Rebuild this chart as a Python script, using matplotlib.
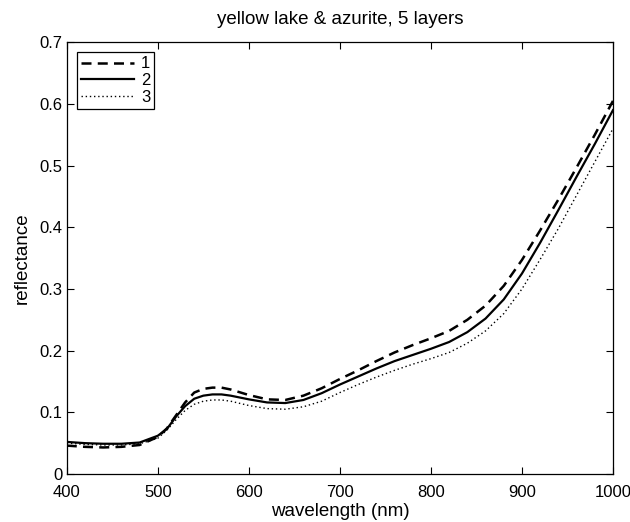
import matplotlib
matplotlib.use("Agg")
import matplotlib.pyplot as plt

wavelength = [400, 420, 440, 460, 480, 500, 510, 520, 530, 540, 550, 560, 570, 580, 600, 620, 640, 660, 680,
              700, 720, 740, 760, 780, 800, 820, 840, 860, 880, 900, 920, 940, 960, 980, 1000]
series1 = [0.046, 0.044, 0.043, 0.044, 0.047, 0.060, 0.074, 0.095, 0.116, 0.132, 0.138, 0.140, 0.140,
           0.137, 0.128, 0.121,
           0.120, 0.127, 0.139, 0.154, 0.168, 0.183, 0.197, 0.209, 0.220, 0.232, 0.250, 0.273,
           0.305, 0.347, 0.395, 0.445, 0.497, 0.550, 0.605]
series2 = [0.052, 0.050, 0.049, 0.049, 0.051, 0.062, 0.073, 0.093, 0.110, 0.122, 0.127, 0.129, 0.129,
           0.127, 0.121, 0.116,
           0.115, 0.120, 0.131, 0.145, 0.158, 0.171, 0.183, 0.193, 0.203, 0.214, 0.230, 0.252,
           0.283, 0.325, 0.375, 0.428, 0.482, 0.535, 0.590]
series3 = [0.050, 0.048, 0.047, 0.047, 0.049, 0.058, 0.071, 0.088, 0.103, 0.113, 0.118, 0.120, 0.120,
           0.118, 0.111, 0.106,
           0.105, 0.109, 0.118, 0.132, 0.145, 0.157, 0.168, 0.178, 0.187, 0.197, 0.212, 0.232,
           0.260, 0.300, 0.348, 0.398, 0.452, 0.506, 0.560]
labels = ["1", "2", "3"]
xticks = [400, 500, 600, 700, 800, 900, 1000]
yticks = [0, 0.1, 0.2, 0.3, 0.4, 0.5, 0.6, 0.7]
ytick_labels = ["0", "0.1", "0.2", "0.3", "0.4", "0.5", "0.6", "0.7"]

plt.rcParams['font.family'] = ['Liberation Sans', 'DejaVu Sans']

fig = plt.figure(figsize=(6.3, 5.22), dpi=100)
ax = fig.add_axes([0.106, 0.092, 0.867, 0.827])

ax.plot(wavelength, series1, color='black', lw=1.8, linestyle=(0, (4, 2.5)), label=labels[0])
ax.plot(wavelength, series2, color='black', lw=1.6, linestyle='-', label=labels[1])
ax.plot(wavelength, series3, color='black', lw=1.0, linestyle=(0, (1, 2)), label=labels[2])

ax.set_xlim(400, 1000)
ax.set_ylim(0, 0.7)
ax.set_xticks(xticks)
ax.set_yticks(yticks)
ax.set_yticklabels(ytick_labels)
ax.tick_params(direction='in', top=True, right=True, length=5, width=0.8, labelsize=12)
ax.tick_params(axis='x', pad=8)
ax.tick_params(axis='y', pad=3)
for s in ax.spines.values():
    s.set_linewidth(0.9)

ax.set_xlabel("wavelength (nm)", fontsize=13.5, labelpad=2)
ax.set_ylabel("reflectance", fontsize=13.5, labelpad=6)
ax.set_title("yellow lake & azurite, 5 layers", fontsize=13.5, pad=13)

leg = ax.legend(loc='upper left', fontsize=12, handlelength=3.2, handletextpad=0.4,
                borderpad=0.25, labelspacing=0.1, fancybox=False, framealpha=1,
                edgecolor='black', borderaxespad=0.6)
leg.get_frame().set_linewidth(0.9)

fig.savefig("out.png", dpi=100, facecolor='white')
